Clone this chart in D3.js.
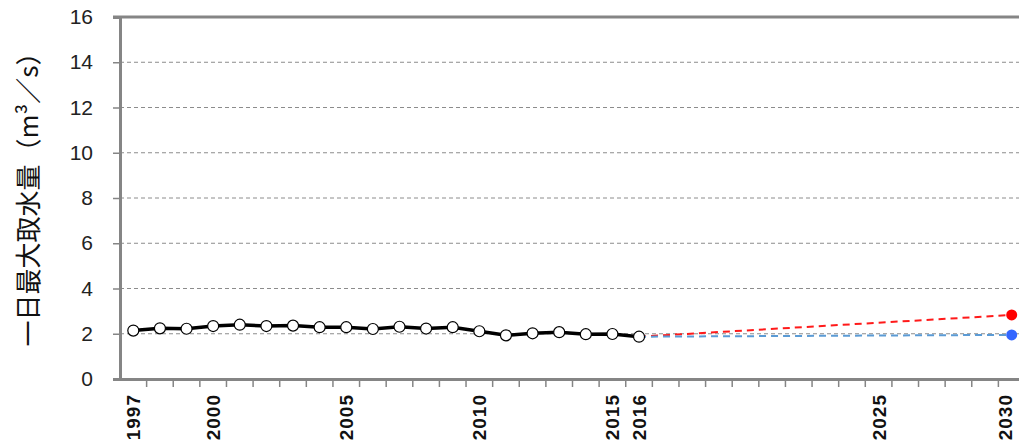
<!DOCTYPE html>
<html>
<head>
<meta charset="utf-8">
<script src="https://cdn.jsdelivr.net/npm/d3@7"></script>
<style>
  body { margin: 0; background: #fff; }
  svg { display: block; font-family: "Liberation Sans", "DejaVu Sans", sans-serif; }
</style>
</head>
<body>
<div id="container"></div>
<script>
/* DATA */
const years = d3.range(1997, 2031).map(String)
const yearLabels = ["1997", "2000", "2005", "2010", "2015", "2016", "2025", "2030"]
const actualYears = d3.range(1997, 2017).map(String)
const actualValues = [2.14, 2.24, 2.22, 2.34, 2.40, 2.34, 2.36, 2.29, 2.29, 2.21,
                      2.31, 2.23, 2.29, 2.11, 1.93, 2.02, 2.07, 1.98, 1.99, 1.87]
const highYears = ["2016", "2030"]
const highValues = [1.87, 2.83]
const lowYears = ["2016", "2030"]
const lowValues = [1.87, 1.95]
const yTicks = [0, 2, 4, 6, 8, 10, 12, 14, 16]
const yTitle = "一日最大取水量（m³／s）"

/* CONSTANTS */
const width = 1019, height = 444,
      margin = {top: 17, right: -6, bottom: 65, left: 120}

const svg = d3.select("#container").append("svg")
  .attr("width", width)
  .attr("height", height)

// SCALES
const xScale = d3.scaleBand()
  .domain(years)
  .range([margin.left, width - margin.right])

const yScale = d3.scaleLinear()
  .domain([0, 16])
  .range([height - margin.bottom, margin.top])

const cx = d => xScale(d) + xScale.bandwidth() / 2

// GRIDLINES
svg.append("g")
  .selectAll("line")
  .data(yTicks.filter(t => t > 0 && t < 16))
  .join("line")
  .attr("x1", margin.left)
  .attr("x2", width)
  .attr("y1", d => yScale(d))
  .attr("y2", d => yScale(d))
  .attr("stroke", "#8c8c8c")
  .attr("stroke-width", 1)
  .attr("stroke-dasharray", "4,3")

// top border
svg.append("line")
  .attr("x1", margin.left - 7)
  .attr("x2", width)
  .attr("y1", yScale(16))
  .attr("y2", yScale(16))
  .attr("stroke", "#858585")
  .attr("stroke-width", 3)

// Y AXIS
const yAxis = d3.axisLeft(yScale).tickValues(yTicks).tickSize(7).tickPadding(20)
const gy = svg.append("g")
  .attr("transform", `translate(${margin.left}, 0)`)
  .call(yAxis)
gy.select(".domain").attr("stroke", "#858585").attr("stroke-width", 3)
gy.selectAll(".tick line").attr("stroke", "#858585").attr("stroke-width", 1.5)
gy.selectAll(".tick text")
  .attr("font-size", 21)
  .attr("fill", "#222")

// X AXIS
const xAxis = d3.axisBottom(xScale).tickSize(0).tickFormat("")
const gx = svg.append("g")
  .attr("transform", `translate(0, ${height - margin.bottom})`)
  .call(xAxis)
gx.select(".domain").attr("stroke", "#858585").attr("stroke-width", 3)

// category boundary ticks
svg.append("g")
  .selectAll("line")
  .data(years.slice(1))
  .join("line")
  .attr("x1", d => xScale(d))
  .attr("x2", d => xScale(d))
  .attr("y1", height - margin.bottom)
  .attr("y2", height - margin.bottom + 8)
  .attr("stroke", "#858585")
  .attr("stroke-width", 1.5)

// labels (last one nudged so it stays inside the frame)
svg.append("g")
  .selectAll("text")
  .data(yearLabels)
  .join("text")
  .attr("transform", d => `translate(${Math.min(cx(d) + 7, width - 7)}, ${height - margin.bottom + 15}) rotate(-90)`)
  .attr("text-anchor", "end")
  .attr("font-size", 19)
  .attr("font-weight", "bold")
  .attr("letter-spacing", 1)
  .attr("fill", "#111")
  .text(d => d)

// Y TITLE
svg.append("text")
  .attr("transform", `translate(38, ${yScale(8) - 5}) rotate(-90)`)
  .attr("text-anchor", "middle")
  .attr("font-family", "'Noto Sans CJK JP', sans-serif")
  .attr("font-size", 26)
  .attr("fill", "#111")
  .text(yTitle)

// LINES
const lineGen = (xs) => d3.line()
  .x((d, i) => cx(xs[i]))
  .y(d => yScale(d))

svg.append("path")
  .datum(highValues)
  .attr("fill", "none")
  .attr("stroke", "#ff1a1a")
  .attr("stroke-width", 2)
  .attr("stroke-dasharray", "7,5")
  .attr("d", lineGen(highYears))

svg.append("path")
  .datum(lowValues)
  .attr("fill", "none")
  .attr("stroke", "#5b9bd5")
  .attr("stroke-width", 2)
  .attr("stroke-dasharray", "7,5")
  .attr("d", lineGen(lowYears))

svg.append("circle")
  .attr("cx", cx(highYears[1]))
  .attr("cy", yScale(highValues[1]))
  .attr("r", 5.5)
  .attr("fill", "#ff0000")

svg.append("circle")
  .attr("cx", cx(lowYears[1]))
  .attr("cy", yScale(lowValues[1]))
  .attr("r", 5.5)
  .attr("fill", "#3366ff")

svg.append("path")
  .datum(actualValues)
  .attr("fill", "none")
  .attr("stroke", "#000")
  .attr("stroke-width", 3.5)
  .attr("d", lineGen(actualYears))

svg.append("g")
  .selectAll("circle")
  .data(actualValues)
  .join("circle")
  .attr("cx", (d, i) => cx(actualYears[i]))
  .attr("cy", d => yScale(d))
  .attr("r", 5.5)
  .attr("fill", "#fff")
  .attr("stroke", "#000")
  .attr("stroke-width", 1.2)
</script>
</body>
</html>
